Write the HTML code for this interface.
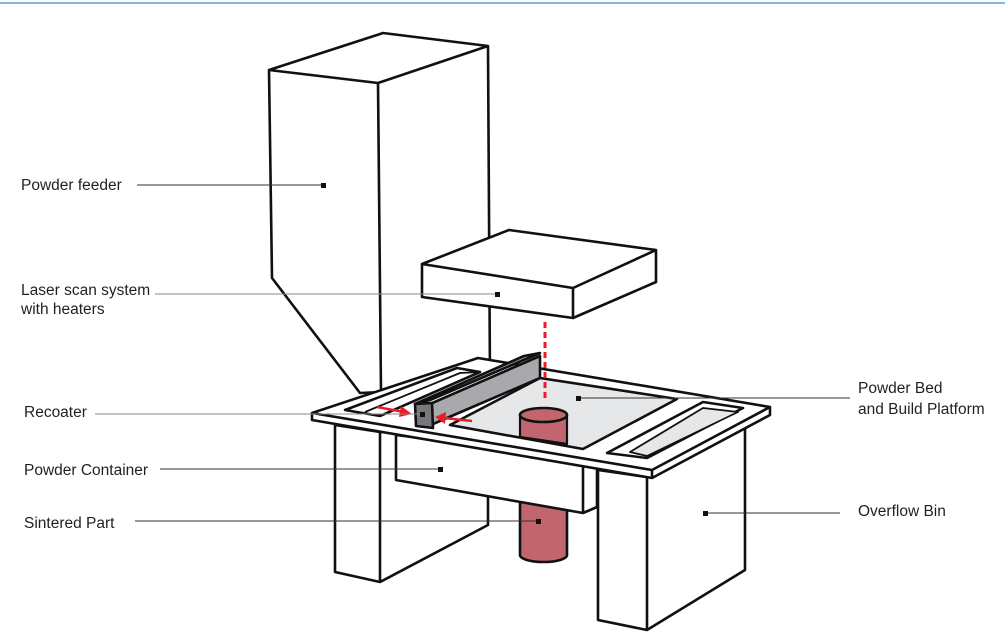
<!DOCTYPE html>
<html><head><meta charset="utf-8"><style>
html,body{margin:0;padding:0;background:#fff;}
svg{display:block;}
text{font-family:"Liberation Sans",sans-serif;font-size:15.5px;fill:#231f20;}
</style></head><body>
<svg width="1005" height="641" viewBox="0 0 1005 641">
<line x1="0" y1="3" x2="1005" y2="3" stroke="#5b9bd5" stroke-width="1.5"/>
<g stroke="#111" stroke-width="2.6" stroke-linejoin="round" fill="#fff">
<polygon points="335,425 380,432 488,430 488,525 380,582 335,572"/>
<line x1="380" y1="432" x2="380" y2="582"/>
<polygon points="598,470 647,477 745,428 745,570 647,630 598,620"/>
<line x1="647" y1="477" x2="647" y2="630"/>
<polygon points="269,70 383,33 488,46 490,380 381,392 360,393 272,278"/>
<polyline points="269,70 378,83 488,46" fill="none"/>
<line x1="378" y1="83" x2="381" y2="392"/>
<path d="M520,490 L520,555 A23.5,7 0 0 0 567,555 L567,490 Z" fill="#c1666e"/>
<polygon points="396,435 597,460 597,507 583,513 396,480"/>
<line x1="583" y1="467" x2="583" y2="513"/>
<polygon points="312,413 478,358 770,407 770,415 652,478 312,420"/>
<polyline points="312,413 652,470 770,407" fill="none"/>
<line x1="652" y1="470" x2="652" y2="478"/>
<polygon points="450,425 540,378 677,399 583,449" fill="#e6e7e8"/>
<polygon points="345,410 457,368 480,372 380,416"/>
<polyline points="365,412 460,373 480,372" fill="none" stroke-width="1.8"/>
<polygon points="607,453 703,402 743,408 647,458"/>
<polygon points="630,452 703,408 738,412 647,456" fill="#e6e7e8" stroke-width="1.8"/>
<path d="M520,415 L520,437 L567,444 L567,415 Z" fill="#c1666e" stroke-width="2.2"/>
<ellipse cx="543.5" cy="415" rx="23.5" ry="7" fill="#c1666e"/>
<polygon points="430,404 540,356 540,378 433,424" fill="#a7a9ac"/>
<polygon points="415,404 430,400 540,353 524,356" fill="#a7a9ac"/>
<polygon points="415,404 432,403 433,428 416,426" fill="#77787b"/>
<polygon points="422,264 509,230 656,250 656,282 573,318 422,297"/>
<polyline points="422,264 573,288 656,250" fill="none"/>
<line x1="573" y1="288" x2="573" y2="318"/>
</g>
<line x1="545" y1="322" x2="545" y2="402" stroke="#ed1c24" stroke-width="3" stroke-dasharray="6,4"/>
<g stroke="#ed1c24" stroke-width="2.5" fill="#ed1c24">
<line x1="377" y1="407" x2="404" y2="412"/><polygon points="412,414 401,406 399,417" stroke="none"/>
<line x1="472" y1="421" x2="444" y2="418"/><polygon points="435,417 446,412 445,424" stroke="none"/>
</g>
<g stroke="#333" stroke-width="1">
<line x1="137" y1="185" x2="323" y2="185"/>
<line x1="155" y1="294" x2="497" y2="294" stroke="#888"/>
<line x1="95" y1="414" x2="422" y2="414" stroke="#888"/>
<line x1="160" y1="469" x2="440" y2="469"/>
<line x1="135" y1="521" x2="538" y2="521"/>
<line x1="578" y1="398" x2="850" y2="398"/>
<line x1="705" y1="513" x2="840" y2="513"/>
</g>
<g fill="#111">
<rect x="321" y="183" width="5" height="5"/><rect x="495" y="292" width="5" height="5"/>
<rect x="420" y="412" width="5" height="5"/><rect x="438" y="467" width="5" height="5"/>
<rect x="536" y="519" width="5" height="5"/><rect x="576" y="396" width="5" height="5"/>
<rect x="703" y="511" width="5" height="5"/>
</g>
<text x="21" y="190">Powder feeder</text>
<text x="21" y="295">Laser scan system</text>
<text x="21" y="314">with heaters</text>
<text x="24" y="417">Recoater</text>
<text x="24" y="475">Powder Container</text>
<text x="24" y="528">Sintered Part</text>
<text x="858" y="393">Powder  Bed</text>
<text x="858" y="414">and Build Platform</text>
<text x="858" y="516">Overflow Bin</text>
</svg>
</body></html>
